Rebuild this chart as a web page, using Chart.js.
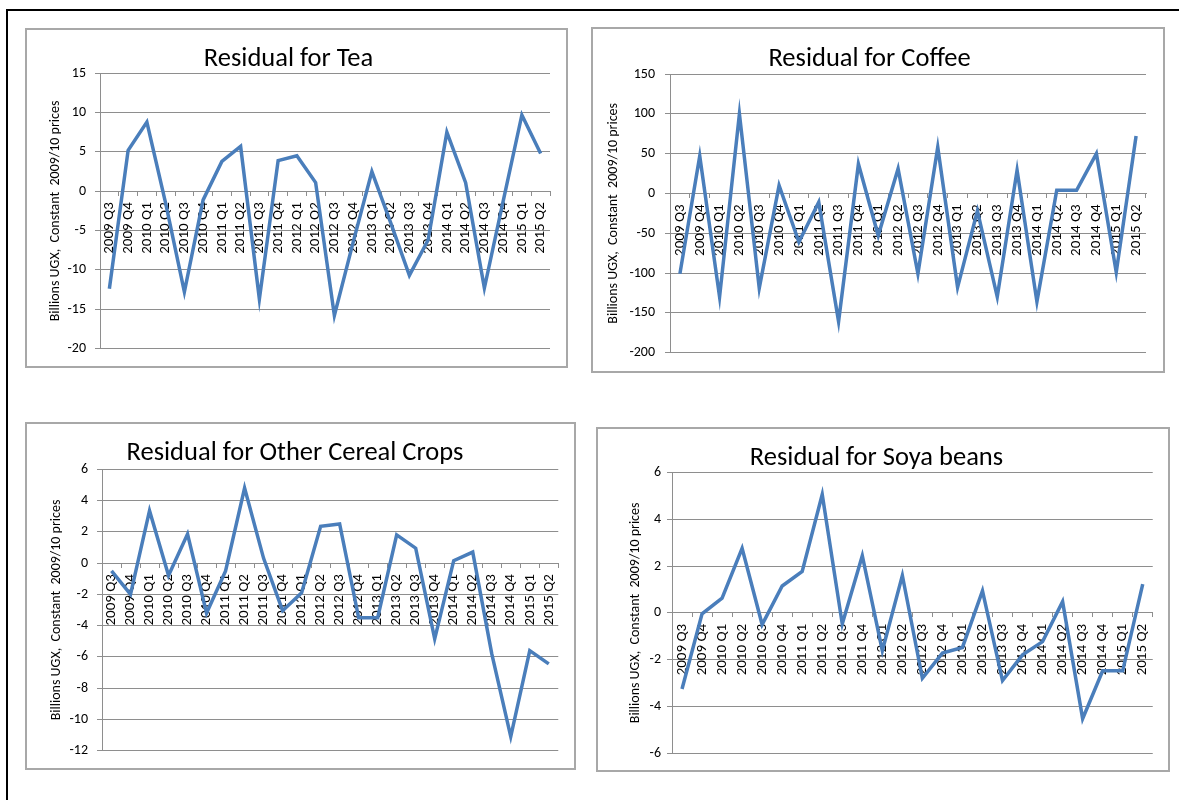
<!DOCTYPE html>
<html>
<head>
<meta charset="utf-8">
<title>Residuals</title>
<script src="https://cdn.jsdelivr.net/npm/chart.js@4.4.1/dist/chart.umd.min.js"></script>
<style>
  body { margin: 0; width: 1179px; height: 800px; overflow: hidden; background: #fff; }
  .outer { position: absolute; left: 6px; top: 9px; width: 1220px; height: 900px; border: 2px solid #000; }
  .frame { position: absolute; border: 2px solid #a8a8a8; background: #fff; }
  .frame canvas { display: block; }
</style>
</head>
<body>
<div class="outer"></div>
<div class="frame" style="left:25px;top:28px"><canvas id="chart-tea" width="539" height="336"></canvas></div>
<div class="frame" style="left:591px;top:27px"><canvas id="chart-coffee" width="570" height="342"></canvas></div>
<div class="frame" style="left:25px;top:422px"><canvas id="chart-cereal" width="547" height="344"></canvas></div>
<div class="frame" style="left:596px;top:427px"><canvas id="chart-soya" width="570" height="341"></canvas></div>
<script>
var quarters = ['2009 Q3', '2009 Q4', '2010 Q1', '2010 Q2', '2010 Q3', '2010 Q4',
    '2011 Q1', '2011 Q2', '2011 Q3', '2011 Q4', '2012 Q1', '2012 Q2',
    '2012 Q3', '2012 Q4', '2013 Q1', '2013 Q2', '2013 Q3', '2013 Q4',
    '2014 Q1', '2014 Q2', '2014 Q3', '2014 Q4', '2015 Q1', '2015 Q2'];

var teaResidual = [-12.4, 5.2, 8.8, -1.5, -12.8, -1.1, 3.8, 5.7, -13.7, 3.9, 4.5, 1.1,
    -15.8, -6.5, 2.5, -4.0, -10.7, -6.2, 7.5, 1.1, -12.3, -1.3, 9.7, 4.8];
var coffeeResidual = [-101, 47, -130, 100, -119, 10, -61, -11, -161, 37, -53, 31,
    -101, 58, -118, -22, -130, 29, -136, 4, 4, 50, -99, 72];
var cerealResidual = [-0.5, -2.0, 3.35, -0.8, 1.85, -3.2, -0.5, 4.8, 0.3, -3.05, -1.9, 2.35,
    2.5, -3.5, -3.5, 1.8, 0.95, -4.85, 0.15, 0.7, -5.8, -11.1, -5.6, -6.45];
var soyaResidual = [-3.26, -0.04, 0.63, 2.76, -0.5, 1.15, 1.77, 5.07, -0.48, 2.45, -1.62, 1.6,
    -2.8, -1.72, -1.48, 0.94, -2.9, -1.8, -1.23, 0.48, -4.53, -2.48, -2.48, 1.23];

var teaTicks = [-20, -15, -10, -5, 0, 5, 10, 15];
var coffeeTicks = [-200, -150, -100, -50, 0, 50, 100, 150];
var cerealTicks = [-12, -10, -8, -6, -4, -2, 0, 2, 4, 6];
var soyaTicks = [-6, -4, -2, 0, 2, 4, 6];

var yTitle = 'Billions UGX,  Constant  2009/10 prices';

var FONT = 'Carlito, Calibri, Lato, sans-serif';
var GRID = '#8e8e8e';
var LINE = '#4a7ebb';

// box: plotLeft, padRight, padBottom, titleTop, titleBottom, yTitleX, tickPad
function residualChart(id, title, values, ticks, box) {
    var ctx = document.getElementById(id);
    new Chart(ctx, {
        type: 'line',
        data: {
            labels: quarters,
            datasets: [{
                data: values,
                borderColor: LINE,
                borderWidth: 3.5,
                pointRadius: 0,
                tension: 0,
                fill: false
            }]
        },
        options: {
            responsive: false,
            animation: false,
            layout: { padding: { left: 0, right: box.padRight, top: 0, bottom: box.padBottom } },
            plugins: {
                legend: { display: false },
                tooltip: { enabled: false },
                title: {
                    display: true,
                    text: title,
                    color: '#000',
                    font: { family: FONT, size: 26.5, weight: 'normal', lineHeight: 1 },
                    padding: { top: box.titleTop, bottom: box.titleBottom }
                }
            },
            scales: {
                x: {
                    position: { y: 0 },
                    offset: true,
                    grid: { offset: true, drawOnChartArea: false, tickLength: 4, color: GRID },
                    border: { color: GRID },
                    ticks: {
                        autoSkip: false, minRotation: 90, maxRotation: 90, padding: 7,
                        color: '#000', font: { family: FONT, size: 15 }
                    }
                },
                y: {
                    min: ticks[0],
                    max: ticks[ticks.length - 1],
                    afterBuildTicks: function (s) { s.ticks = ticks.map(function (v) { return { value: v }; }); },
                    afterFit: function (s) { s.width = box.plotLeft; },
                    grid: { color: GRID, tickLength: 5 },
                    border: { color: GRID },
                    ticks: { padding: box.tickPad, color: '#000', font: { family: FONT, size: 14 } },
                    title: {
                        display: true,
                        text: yTitle,
                        color: '#000',
                        font: { family: FONT, size: 14 },
                        padding: { top: box.yTitleX - 8.4, bottom: 0 }
                    }
                }
            }
        }
    });
}

residualChart('chart-tea', 'Residual for Tea', teaResidual, teaTicks,
    { plotLeft: 73, padRight: 16, padBottom: 16, titleTop: 15.75, titleBottom: 1, yTitleX: 28, tickPad: 9 });
residualChart('chart-coffee', 'Residual for Coffee', coffeeResidual, coffeeTicks,
    { plotLeft: 77, padRight: 17, padBottom: 17, titleTop: 16.75, titleBottom: 1.75, yTitleX: 20, tickPad: 10 });
residualChart('chart-cereal', 'Residual for Other Cereal Crops', cerealResidual, cerealTicks,
    { plotLeft: 75, padRight: 11, padBottom: 17, titleTop: 15.75, titleBottom: 3, yTitleX: 29, tickPad: 9 });
residualChart('chart-soya', 'Residual for Soya beans', soyaResidual, soyaTicks,
    { plotLeft: 74, padRight: 13, padBottom: 17, titleTop: 15.75, titleBottom: 1.5, yTitleX: 37, tickPad: 6 });
</script>
</body>
</html>
